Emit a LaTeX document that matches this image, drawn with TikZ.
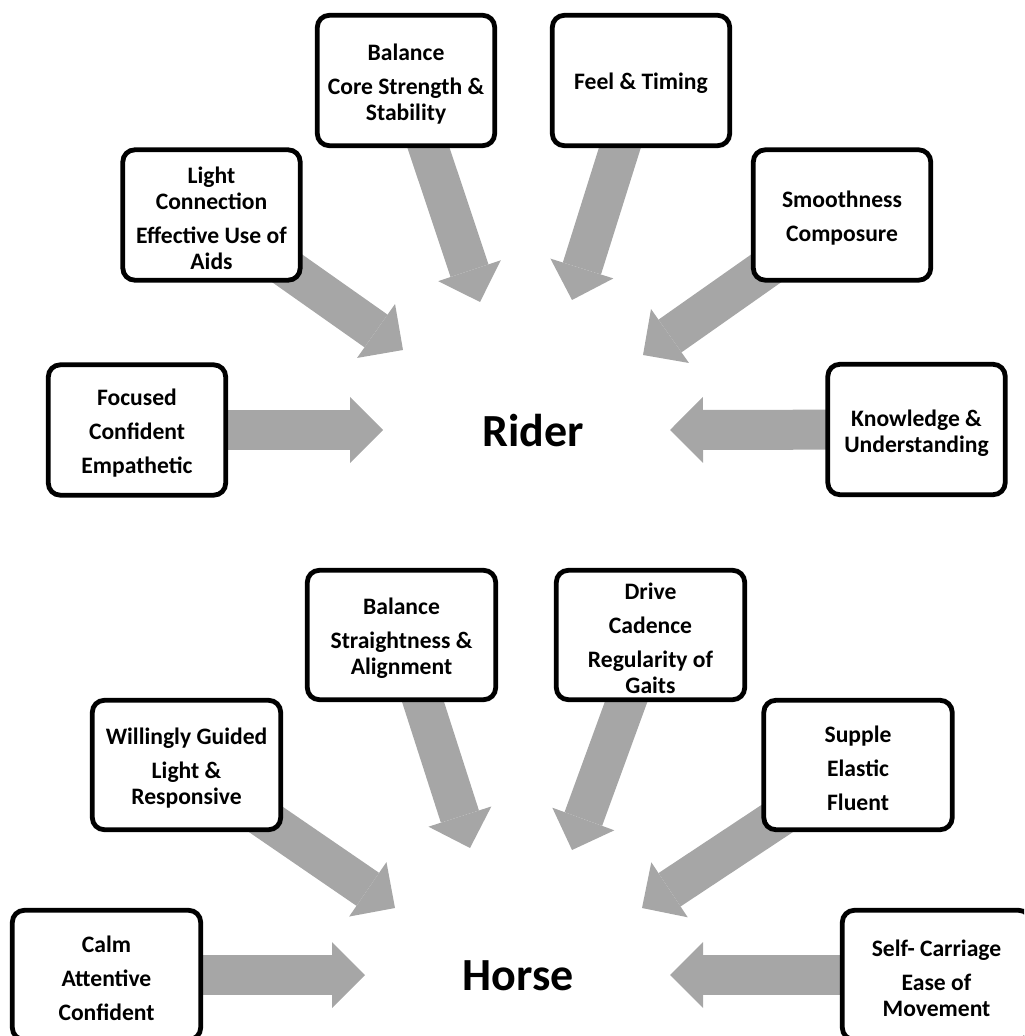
\documentclass[tikz,border=0pt]{standalone}
\usepackage{fontspec}
\setmainfont{Carlito}
\usepackage{tikz}
\usetikzlibrary{arrows.meta,backgrounds}
\definecolor{shaftgrey}{RGB}{166,166,166}
\newcommand{\topgap}{\rule{0pt}{11.5pt}}

\begin{document}
\begin{tikzpicture}[x=0.5pt,y=-0.5pt,
  card/.style={draw,line width=2.4pt,rounded corners=6pt,fill=white,align=center,inner sep=2pt,
    font=\fontsize{11.8}{13}\selectfont\bfseries},
  rcard/.style={card,minimum width=88.7pt,minimum height=65.2pt},
  hcard/.style={card,minimum width=94.2pt,minimum height=64.7pt},
  title/.style={font=\fontsize{23}{27}\selectfont\bfseries},
  feed/.style={shaftgrey,line width=20pt,-{Triangle[length=16.5pt,width=33pt,line width=0pt]}}]
\clip (0,0) rectangle (1024,1036);
\node[title] (rider) at (533,431) {Rider};
\node[rcard] (balR) at (406,80.5) {\topgap Balance\\[4pt] Core Strength \&\\ Stability};
\node[rcard] (feel) at (641,80.5) {\topgap Feel \& Timing};
\node[rcard] (light) at (211.5,215) {\topgap Light\\ Connection\\[4pt] Effective Use of\\ Aids};
\node[rcard] (smooth) at (842,215) {\topgap Smoothness\\[4pt] Composure};
\node[rcard] (focus) at (137,430) {\topgap Focused\\[4pt] Confident\\[4pt] Empathetic};
\node[rcard] (know) at (916.5,429.5) {\topgap Knowledge \&\\ Understanding};
\coordinate (balRtip) at (480,302);
\coordinate (feeltip) at (572,300);
\coordinate (lighttip) at (403,350);
\coordinate (smoothtip) at (643,355);
\coordinate (focustip) at (383,430);
\coordinate (knowtip) at (670,430);
\node[title] (horse) at (518,976) {Horse};
\node[hcard] (balH) at (401.5,635) {\topgap Balance\\[4pt] Straightness \&\\ Alignment};
\node[hcard] (drive) at (650.5,635) {\topgap Drive\\[4pt] Cadence\\[4pt] Regularity of\\ Gaits};
\node[hcard] (will) at (186.5,765) {\topgap Willingly Guided\\[4pt] Light \&\\ Responsive};
\node[hcard] (supple) at (858,765) {\topgap Supple\\[4pt] Elastic\\[4pt] Fluent};
\node[hcard] (calm) at (106.5,975) {\topgap Calm\\[4pt] Attentive\\[4pt] Confident};
\node[hcard] (self) at (936.5,975) {\topgap Self- Carriage\\[4pt] Ease of\\ Movement};
\coordinate (balHtip) at (470,848);
\coordinate (drivetip) at (572,850);
\coordinate (willtip) at (395,908);
\coordinate (suppletip) at (642,908);
\coordinate (calmtip) at (365,975);
\coordinate (selftip) at (670,975);
\begin{scope}[on background layer]
\draw[feed] (balR.center) -- (balRtip);
\draw[feed] (feel.center) -- (feeltip);
\draw[feed] (light.center) -- (lighttip);
\draw[feed] (smooth.center) -- (smoothtip);
\draw[feed] (focus.center) -- (focustip);
\draw[feed] (know.center) -- (knowtip);
\draw[feed] (balH.center) -- (balHtip);
\draw[feed] (drive.center) -- (drivetip);
\draw[feed] (will.center) -- (willtip);
\draw[feed] (supple.center) -- (suppletip);
\draw[feed] (calm.center) -- (calmtip);
\draw[feed] (self.center) -- (selftip);
\end{scope}
\end{tikzpicture}
\end{document}
